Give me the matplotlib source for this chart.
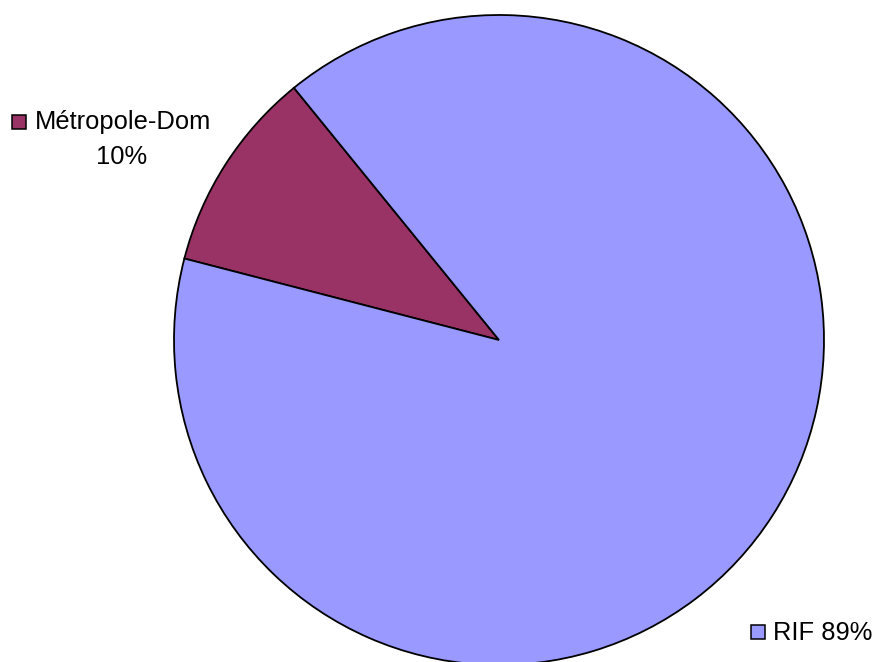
import matplotlib
matplotlib.use("Agg")
import matplotlib.pyplot as plt
from matplotlib.patches import Rectangle

categories = ["Métropole-Dom", "RIF"]
shares = [10, 89]
pct_labels = ["10%", "89%"]
colors = ["#993366", "#9999ff"]

plt.rcParams['font.family'] = ['Liberation Sans', 'DejaVu Sans']

W, H = 876, 662
fig = plt.figure(figsize=(W / 100, H / 100), dpi=100)
ax = fig.add_axes([0, 0, 1, 1])
ax.set_xlim(0, W)
ax.set_ylim(0, H)
ax.set_aspect('equal')
ax.axis('off')

total = sum(shares)
span0 = 360 * shares[0] / total
mid0 = 147.3
ax.pie(shares, colors=colors, startangle=mid0 - span0 / 2, counterclock=True,
       center=(499, 322), radius=325, frame=True,
       wedgeprops=dict(edgecolor='black', linewidth=1.3))
ax.set_xlim(0, W)
ax.set_ylim(0, H)
ax.axis('off')

# labels
ax.add_patch(Rectangle((12, 533), 14, 14, facecolor=colors[0], edgecolor='black', lw=1.1))
ax.text(35, 540, categories[0], fontsize=18.4, va='center', ha='left')
ax.text(122, 505, pct_labels[0], fontsize=18.4, va='center', ha='center')

ax.add_patch(Rectangle((751, 23), 14, 14, facecolor=colors[1], edgecolor='black', lw=1.1))
ax.text(773, 29, f"{categories[1]} {pct_labels[1]}", fontsize=18.4, va='center', ha='left')

fig.savefig("out.png", dpi=100)
